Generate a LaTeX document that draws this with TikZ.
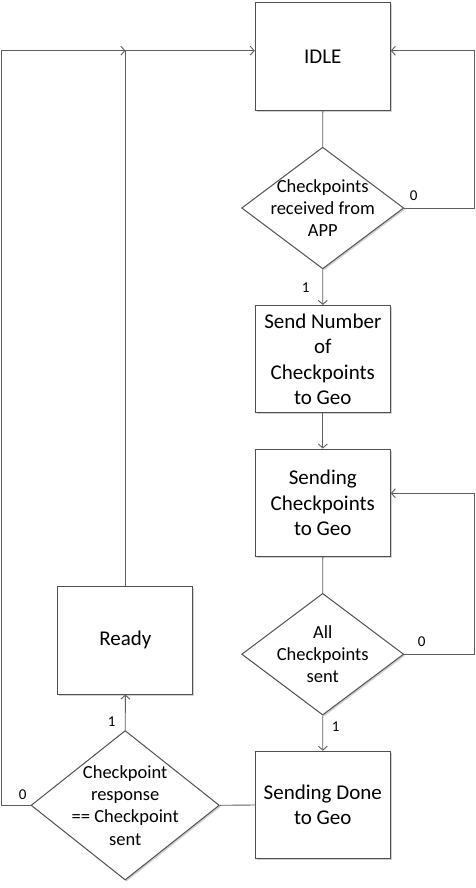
\documentclass[tikz,border=0pt]{standalone}
\usepackage{fontspec}
\setmainfont{Carlito}
\usetikzlibrary{shapes.geometric,arrows.meta,shadows}
\definecolor{linegray}{HTML}{5E5E5E}
\definecolor{boxgray}{HTML}{505050}
\begin{document}
\begin{tikzpicture}[x=1pt,y=-1pt,
  shade/.style={drop shadow={shadow xshift=1.5pt,shadow yshift=-1.5pt,opacity=0.18,fill=black}},
  statebox/.style={draw=boxgray,line width=1pt,fill=white,shade,minimum width=135pt,minimum height=107.5pt,inner sep=0pt,align=center,font=\fontsize{21}{25.5}\selectfont},
  decision/.style={draw=boxgray,line width=1pt,fill=white,shade,diamond,inner sep=0pt},
  dtext/.style={align=center,inner sep=0pt,font=\fontsize{18.5}{22.4}\selectfont},
  conn/.style={draw=linegray,line width=0.9pt},
  arr/.style={conn,-{Straight Barb[length=4pt,width=9pt]}},
  lbl/.style={inner sep=0pt,font=\fontsize{15}{18}\selectfont}]
\useasboundingbox (0,0) rectangle (475,888);

\node[statebox] (idle) at (322.8,56.7) {IDLE};
\node[decision,minimum width=162pt,minimum height=121.7pt] (d1) at (322.7,208) {};
\node[dtext] (d1t) at (d1) {Checkpoints\\received from\\APP};
\node[statebox] (sn) at (322.8,359.2) {Send Number\\of\\Checkpoints\\to Geo};
\node[statebox] (sc) at (322.8,502.8) {Sending\\Checkpoints\\to Geo};
\node[decision,minimum width=162pt,minimum height=121.7pt] (d2) at (322.7,654.2) {};
\node[dtext] (d2t) at (d2) {All\\Checkpoints\\sent};
\node[statebox] (sd) at (322.8,805) {Sending Done\\to Geo};
\node[decision,minimum width=188.3pt,minimum height=149.5pt] (d3) at (125.2,805.3) {};
\node[dtext] (d3t) at (d3) {Checkpoint\\response\\== Checkpoint\\sent};
\node[statebox] (ready) at (125.4,640.3) {Ready};

\coordinate (rt1) at (474,50.7);
\coordinate (rt2) at (474,493.3);
\coordinate (lt) at (1.3,50.7);

\draw[conn] (idle.south) -- (d1.north);
\draw[arr] (d1.south) -- (sn.north);
\draw[arr] (d1.east) -| (rt1) -- (rt1 -| idle.east);
\draw[arr] (sn.south) -- (sc.north);
\draw[conn] (sc.south) -- (d2.north);
\draw[arr] (d2.east) -| (rt2) -- (rt2 -| sc.east);
\draw[arr] (d2.south) -- (sd.north);
\draw[conn] (sd.west) -- (d3.east);
\draw[arr] (d3.north) -- (ready.south);
\draw[arr] (d3.west) -| (lt) -- (lt -| ready.north);
\draw[arr] (ready.north) |- (lt -| idle.west);

\node[lbl] (l1) at (413.7,196) {0};
\node[lbl] (l2) at (305.7,287.3) {1};
\node[lbl] (l3) at (421.7,641.7) {0};
\node[lbl] (l4) at (335.7,727) {1};
\node[lbl] (l5) at (111.7,721.3) {1};
\node[lbl] (l6) at (22.7,795) {0};
\end{tikzpicture}
\end{document}
